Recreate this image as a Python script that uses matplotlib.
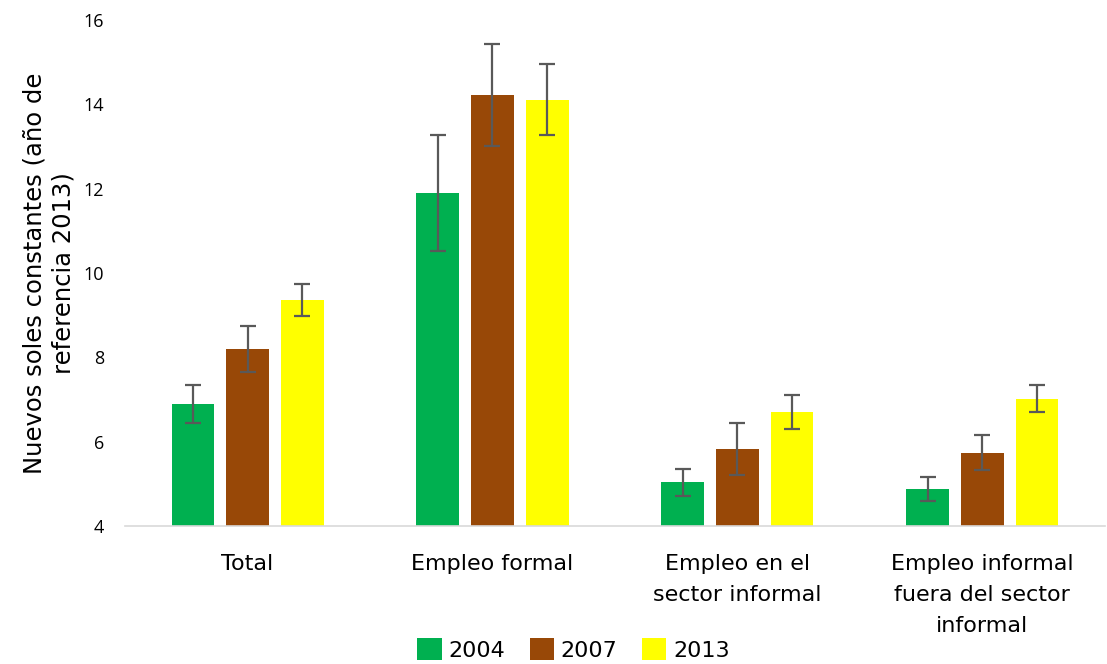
import numpy as np
import matplotlib
matplotlib.use("Agg")
import matplotlib.pyplot as plt

categories = ["Total", "Empleo formal", "Empleo en el\nsector informal",
              "Empleo informal\nfuera del sector\ninformal"]
years = ["2004", "2007", "2013"]
colors = ["#00B050", "#984807", "#FFFF00"]

vals_2004 = [6.89, 11.89, 5.03, 4.87]
vals_2007 = [8.20, 14.21, 5.82, 5.74]
vals_2013 = [9.35, 14.11, 6.70, 7.01]

err_2004 = [0.46, 1.37, 0.33, 0.29]
err_2007 = [0.55, 1.21, 0.61, 0.42]
err_2013 = [0.38, 0.84, 0.41, 0.32]

series = [vals_2004, vals_2007, vals_2013]
errors = [err_2004, err_2007, err_2013]

fig = plt.figure(figsize=(11.07, 6.64), dpi=100)
ax = fig.add_axes([0.113, 0.208, 0.885, 0.762])

x = np.arange(len(categories))
step = 0.223
width = 0.175
for i, (vals, errs) in enumerate(zip(series, errors)):
    ax.bar(x + (i - 1) * step, vals, width, bottom=0, color=colors[i], label=years[i],
           yerr=errs, error_kw=dict(ecolor="#595959", elinewidth=1.6, capsize=6, capthick=1.6),
           zorder=2)

ax.set_ylim(4, 16)
ax.set_xlim(-0.5, len(categories) - 0.5)
ax.set_yticks(range(4, 17, 2))
ax.tick_params(axis="y", length=0, labelsize=13, pad=15)
ax.tick_params(axis="x", length=0, labelsize=16, pad=20)
for lab in ax.get_yticklabels():
    lab.set_fontfamily("Open Sans")
ax.set_xticks(x)
ax.set_xticklabels(categories, fontfamily="DejaVu Sans", linespacing=1.7)

for s in ["top", "right", "left"]:
    ax.spines[s].set_visible(False)
ax.spines["bottom"].set_color("#D9D9D9")
ax.spines["bottom"].set_linewidth(1.2)

ax.set_ylabel("Nuevos soles constantes (año de\nreferencia 2013)", fontsize=17.5,
              fontfamily="DejaVu Sans", labelpad=6, linespacing=1.25)

fig.legend(loc="lower center", bbox_to_anchor=(0.518, -0.025), ncol=3, frameon=False,
           prop={"family": "DejaVu Sans", "size": 16}, handlelength=1.1, handleheight=1.1,
           columnspacing=1.1, handletextpad=0.3)

fig.savefig("out.png", dpi=100)
